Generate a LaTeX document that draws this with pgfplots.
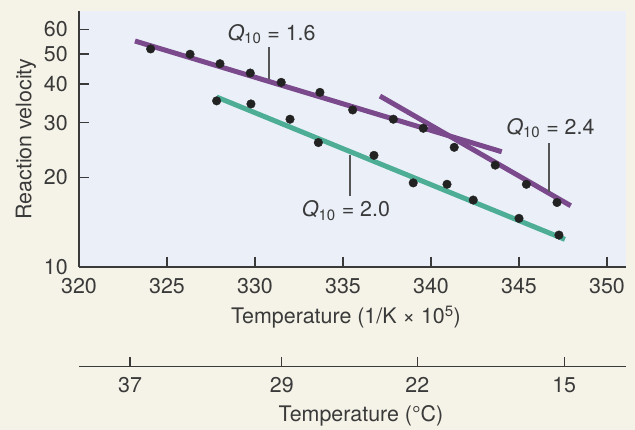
\documentclass[border=0pt]{standalone}
\usepackage{pgfplots}
\pgfplotsset{compat=1.18}
\usepackage{fontspec}
\setmainfont{TeX Gyre Heros}
\definecolor{bgout}{HTML}{F5F3E7}
\definecolor{bgin}{HTML}{EBF0F8}
\definecolor{purp}{HTML}{7B4A8C}
\definecolor{mygreen}{HTML}{4DAE95}
\definecolor{txt}{HTML}{3A3A3A}
\definecolor{axc}{HTML}{3A3A3A}
\definecolor{dot}{HTML}{222222}
\definecolor{lead}{HTML}{555555}
\begin{document}
\begin{tikzpicture}[font=\fontsize{21.5}{25}\selectfont, text=txt]
\fill[bgout] (0,0) rectangle (635bp,430bp);
\useasboundingbox (0,0) rectangle (635bp,430bp);
\begin{axis}[
 at={(79bp,163bp)}, anchor=south west, scale only axis, width=547bp, height=256bp,
 xmin=320, xmax=351.08, ymode=log, ymin=10.28, ymax=68.8,
 axis x line=bottom, axis y line=left,
 axis line style={-, draw=axc, line width=1.5bp},
 axis background/.style={fill=bgin},
 xtick={320,325,...,350}, ytick={10.28,20,30,40,50,60}, yticklabels={10,20,30,40,50,60},
 tick align=inside, major tick length=10bp, tick style={draw=axc, line width=1.3bp},
 /pgf/number format/assume math mode=true,
 xticklabel style={anchor=base, yshift=-27bp, inner sep=0pt},
 yticklabel style={anchor=east, xshift=-11bp, inner sep=0pt},
 xlabel={Temperature (1/K × 10\textsuperscript{5})},
 xlabel style={at={(axis description cs:0.488,0)}, anchor=base, yshift=-57bp, inner sep=0pt},
 ylabel={Reaction velocity},
 ylabel style={at={([xshift=-53bp]axis description cs:0,0.5)}, anchor=center, inner sep=0pt},
 clip=false,
]
\addplot[purp, line width=5bp] coordinates {(323.18,55.05) (344.02,24.19)};
\addplot[purp, line width=5bp] coordinates {(337.10,36.59) (347.94,16.20)};
\addplot[mygreen, line width=5bp] coordinates {(327.82,36.31) (347.61,12.62)};
\addplot[only marks, mark=*, mark size=4.3bp, mark options={fill=dot, draw=dot}] coordinates {
(324.07,51.9) (326.31,49.9) (328.01,46.5) (329.73,43.4) (331.49,40.5) (333.69,37.6)
(335.55,33.0) (337.86,30.8) (339.56,28.8) (341.32,25.0) (343.65,21.9) (345.42,19.0) (347.16,16.6)};
\addplot[only marks, mark=*, mark size=4.3bp, mark options={fill=dot, draw=dot}] coordinates {
(327.82,35.3) (329.77,34.5) (331.99,30.8) (333.60,25.9) (336.76,23.55) (338.99,19.2)
(340.91,19.0) (342.40,16.9) (345.0,14.75) (347.27,13.03)};
\node[anchor=base, inner sep=0pt] at (axis cs:330.94,55.45) {\textit{Q}\textsubscript{10} = 1.6};
\draw[lead, line width=1.3bp] (axis cs:330.80,52.64) -- (axis cs:330.80,41.5);
\node[anchor=base, inner sep=0pt] at (axis cs:346.79,27.58) {\textit{Q}\textsubscript{10} = 2.4};
\draw[lead, line width=1.3bp] (axis cs:346.70,25.8) -- (axis cs:346.70,17.93);
\node[anchor=base, inner sep=0pt] at (axis cs:335.17,14.93) {\textit{Q}\textsubscript{10} = 2.0};
\draw[lead, line width=1.3bp] (axis cs:335.40,23.6) -- (axis cs:335.40,17.4);
\end{axis}
\begin{axis}[
 at={(79bp,63.3bp)}, anchor=south west, scale only axis, width=547bp, height=20bp,
 xmin=320, xmax=351.08, ymin=0, ymax=1,
 axis x line=bottom, axis y line=none,
 axis line style={-, draw=axc, line width=1.3bp},
 xtick={322.9,331.52,339.22,347.57}, xticklabels={37,29,22,15},
 tick align=inside, major tick length=10bp, tick style={draw=axc, line width=1.3bp},
 xticklabel style={anchor=base, yshift=-26bp, inner sep=0pt},
 xlabel={Temperature (°C)},
 xlabel style={at={(axis description cs:0.5155,0)}, anchor=base, yshift=-55bp, inner sep=0pt},
]
\addplot[draw=none] coordinates {(330,0.5)};
\end{axis}
\end{tikzpicture}
\end{document}
